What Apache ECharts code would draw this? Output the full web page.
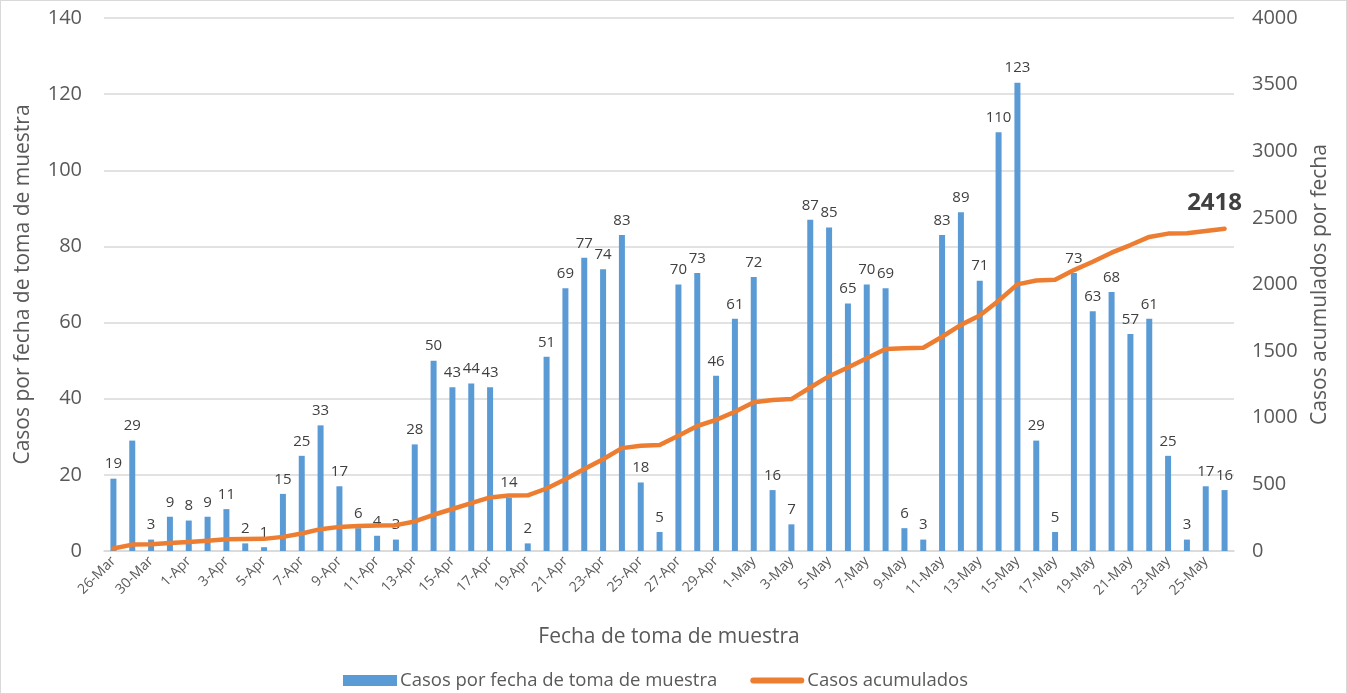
<!DOCTYPE html>
<html>
<head>
<meta charset="utf-8">
<script src="https://cdn.jsdelivr.net/npm/echarts@6/dist/echarts.min.js"></script>
<style>
  html, body { margin: 0; padding: 0; background: #fff; }
  #chart { width: 1345px; height: 692px; border: 1px solid #d9d9d9; }
</style>
</head>
<body>
<div id="chart"></div>
<script>
  // fechas (una barra por fecha)
  const fechas = [
    '26-Mar', '28-Mar', '30-Mar', '31-Mar', '1-Apr', '2-Apr', '3-Apr', '4-Apr', '5-Apr', '6-Apr',
    '7-Apr', '8-Apr', '9-Apr', '10-Apr', '11-Apr', '12-Apr', '13-Apr', '14-Apr', '15-Apr', '16-Apr',
    '17-Apr', '18-Apr', '19-Apr', '20-Apr', '21-Apr', '22-Apr', '23-Apr', '24-Apr', '25-Apr', '26-Apr',
    '27-Apr', '28-Apr', '29-Apr', '30-Apr', '1-May', '2-May', '3-May', '4-May', '5-May', '6-May',
    '7-May', '8-May', '9-May', '10-May', '11-May', '12-May', '13-May', '14-May', '15-May', '16-May',
    '17-May', '18-May', '19-May', '20-May', '21-May', '22-May', '23-May', '24-May', '25-May', '26-May'
  ]
  // casos por fecha de toma de muestra
  const casosFecha = [
    19, 29, 3, 9, 8, 9, 11, 2, 1, 15,
    25, 33, 17, 6, 4, 3, 28, 50, 43, 44,
    43, 14, 2, 51, 69, 77, 74, 83, 18, 5,
    70, 73, 46, 61, 72, 16, 7, 87, 85, 65,
    70, 69, 6, 3, 83, 89, 71, 110, 123, 29,
    5, 73, 63, 68, 57, 61, 25, 3, 17, 16
  ]
  // casos acumulados
  const casosAcumulados = [
    19, 48, 51, 60, 68, 77, 88, 90, 91, 106,
    131, 164, 181, 187, 191, 194, 222, 272, 315, 359,
    402, 416, 418, 469, 538, 615, 689, 772, 790, 795,
    865, 938, 984, 1045, 1117, 1133, 1140, 1227, 1312, 1377,
    1447, 1516, 1522, 1525, 1608, 1697, 1768, 1878, 2001, 2030,
    2035, 2108, 2171, 2239, 2296, 2357, 2382, 2385, 2402, 2418
  ]

  const fontFam = '"Open Sans", sans-serif'
  const txtColor = '#595959'

  const chart = echarts.init(document.getElementById('chart'))
  const ultimo = casosAcumulados.length - 1
  const option = {
    animation: false,
    textStyle: { fontFamily: fontFam },
    color: ['#5b9bd5', '#ed7d31'],
    grid: { left: 103, right: 112, top: 17, bottom: 142 },
    legend: {
      top: 665,
      left: 337,
      itemGap: 33,
      itemWidth: 54,
      itemHeight: 11,
      textStyle: { color: txtColor, fontSize: 18.5, fontFamily: fontFam, padding: [0, 0, 0, -2] },
      data: [
        { name: 'Casos por fecha de toma de muestra', icon: 'rect' },
        {
          name: 'Casos acumulados',
          icon: 'path://M3,0 L51,0 A3,3 0 0 1 51,6 L3,6 A3,3 0 0 1 3,0 Z'
        }
      ]
    },
    xAxis: {
      type: 'category',
      data: fechas,
      name: 'Fecha de toma de muestra',
      nameLocation: 'middle',
      nameGap: 76,
      nameTextStyle: { color: txtColor, fontSize: 21 },
      axisTick: { show: false },
      axisLine: { lineStyle: { color: '#d9d9d9', width: 1.5 } },
      axisLabel: {
        interval: 1,
        rotate: 45,
        color: txtColor,
        fontSize: 14,
        margin: 8
      }
    },
    yAxis: [
      {
        type: 'value',
        min: 0,
        max: 140,
        interval: 20,
        name: 'Casos por fecha de toma de muestra',
        nameLocation: 'middle',
        nameGap: 70,
        nameTextStyle: { color: txtColor, fontSize: 21 },
        axisLabel: { color: txtColor, fontSize: 20, margin: 22 },
        axisLine: { show: false },
        axisTick: { show: false },
        splitLine: { lineStyle: { color: '#d9d9d9', width: 1.5 } }
      },
      {
        type: 'value',
        min: 0,
        max: 4000,
        interval: 500,
        name: 'Casos acumulados por fecha',
        nameLocation: 'middle',
        nameGap: 76,
        nameTextStyle: { color: txtColor, fontSize: 21 },
        axisLabel: { color: txtColor, fontSize: 20, margin: 18, formatter: v => String(v) },
        axisLine: { show: false },
        axisTick: { show: false },
        splitLine: { show: false }
      }
    ],
    series: [
      {
        name: 'Casos por fecha de toma de muestra',
        type: 'bar',
        barWidth: 6,
        data: casosFecha,
        label: {
          show: true,
          position: 'top',
          distance: 7,
          color: '#404040',
          fontSize: 15
        }
      },
      {
        name: 'Casos acumulados',
        type: 'line',
        yAxisIndex: 1,
        symbol: 'none',
        lineStyle: { width: 4.5, cap: 'round', join: 'round' },
        data: casosAcumulados.map((v, i) => i === ultimo
          ? {
              value: v,
              symbol: 'circle',
              symbolSize: 3,
              label: {
                show: true,
                position: 'top',
                distance: 12,
                offset: [-10, 0],
                fontSize: 24,
                fontWeight: 'bold',
                color: '#404040'
              }
            }
          : v)
      }
    ]
  }
  chart.setOption(option)
</script>
</body>
</html>
